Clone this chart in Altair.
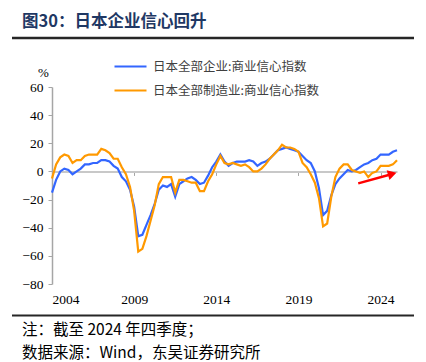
import altair as alt
import pandas as pd

# ---------------- data ----------------
start_year = 2004
blue_vals = [-15, -6, 0, 2, 1, -2, 0, 2, 5, 5, 6, 6, 8, 8, 7, 4, 2, -4, -7, -13,
             -25, -46, -45, -38, -31, -23, -13, -10, -11, -9, -18, -9, -7, -5, -4, -6,
             -9, -8, -3, 3, 7, 12, 7, 4, 6, 7, 7, 7, 8, 7, 4, 6, 7, 9, 12, 15, 16,
             17, 16, 15, 14, 11, 8, 6, 0, -12, -31, -28, -17, -9, -5, -2, 1, 0, 1, 3,
             5, 6, 8, 9, 12, 12, 12, 14, 15]
orange_vals = [-5, 5, 10, 12, 11, 6, 8, 8, 11, 12, 12, 12, 16, 15, 13, 9, 9, 3, -2, -11,
               -28, -57, -55, -46, -35, -24, -9, -4, -4, -4, -15, -6, -6, -7, -8, -8,
               -14, -14, -7, -2, 5, 11, 6, 5, 6, 5, 4, 5, 3, 0, 0, 2, 5, 9, 12, 15, 19,
               17, 17, 16, 14, 6, 3, -2, -8, -19, -39, -37, -18, -4, 2, 5, 5, 1, 0, -1,
               0, -4, -1, 0, 4, 4, 4, 5, 8]
series = ["日本全部企业:商业信心指数", "日本全部制造业:商业信心指数"]
colors = ["#3366FF", "#FF9900"]
x_ticks = [2004, 2009, 2014, 2019, 2024]
y_ticks = [60, 40, 20, 0, -20, -40, -60, -80]
title_text = "图30：日本企业信心回升"
note_lines = ["注：截至 2024 年四季度；", "数据来源：Wind，东吴证券研究所"]
arrow_x = [2022.64, 2024.71]
arrow_y = [-8.5, -1.8]

n = len(blue_vals)
t = [start_year + i / 4 for i in range(n)]
df = pd.DataFrame({
    "t": t + t,
    "v": blue_vals + orange_vals,
    "s": [series[0]] * n + [series[1]] * n,
})

serif = "Liberation Serif"
cjk = "Noto Sans CJK SC"
W, H = 345, 197
Y_MIN, Y_MAX = -80, 60

xs = alt.Scale(domain=[2004, 2025], nice=False, zero=False)
ys = alt.Scale(domain=[Y_MIN, Y_MAX], nice=False, zero=False)
zero_from_top = H * Y_MAX / (Y_MAX - Y_MIN)
zero_from_bottom = H - zero_from_top

x_axis = alt.Axis(values=x_ticks, format="d", offset=-zero_from_bottom,
                  domain=True, domainColor="#C8C8C8", domainWidth=2,
                  ticks=True, tickColor="#A6A6A6", tickSize=4,
                  grid=False, labelFont=serif, labelFontSize=13.5,
                  labelColor="#000000", labelPadding=zero_from_bottom + 4)
y_axis = alt.Axis(values=y_ticks, grid=False, domainColor="#A6A6A6",
                  domainWidth=1.5, tickColor="#A6A6A6", tickSize=4,
                  labelFont=serif, labelFontSize=13.5, labelColor="#000000",
                  labelPadding=5, titleAngle=0, titleFont=serif,
                  titleFontSize=13, titleFontWeight="normal",
                  titleColor="#000000", titleX=-9, titleY=-8,
                  titleAlign="center")

lines = alt.Chart(df).mark_line(strokeWidth=2.2).encode(
    x=alt.X("t:Q", scale=xs, title=None, axis=x_axis),
    y=alt.Y("v:Q", scale=ys, title="%", axis=y_axis),
    color=alt.Color("s:N", scale=alt.Scale(domain=series, range=colors),
                    legend=alt.Legend(orient="none", legendX=61, legendY=-38,
                                      title=None, symbolType="stroke",
                                      symbolSize=1024, symbolStrokeWidth=2.2,
                                      labelFont=cjk, labelFontSize=12.5,
                                      labelColor="#404040", labelOffset=5,
                                      labelLimit=400, rowPadding=-10, padding=0)),
)

arrow_df = pd.DataFrame({"t": arrow_x, "v": arrow_y})
arrow_line = alt.Chart(arrow_df).mark_line(color="#FF0000", strokeWidth=2.5).encode(
    x=alt.X("t:Q", scale=xs, title=None, axis=x_axis),
    y=alt.Y("v:Q", scale=ys, title="%", axis=y_axis))
arrow_head = alt.Chart(arrow_df.tail(1)).mark_point(
    shape="triangle-right", filled=True, color="#FF0000", size=100, angle=344,
    opacity=1).encode(x=alt.X("t:Q", scale=xs, title=None, axis=x_axis),
                      y=alt.Y("v:Q", scale=ys, title="%", axis=y_axis))


def text_layer(txt, x, y, size, color, weight="normal", font=cjk):
    return alt.Chart(pd.DataFrame({"txt": [txt]})).mark_text(
        align="left", baseline="middle", fontSize=size, font=font,
        color=color, fontWeight=weight).encode(
        x=alt.value(x), y=alt.value(y), text="txt:N")


title = text_layer(title_text, -30, -65, 16.5, "#1F3864", "bold")
note1 = text_layer(note_lines[0], -30, 243, 15.5, "#000000")
note2 = text_layer(note_lines[1], -30, 266, 15.5, "#000000")
top_rule = alt.Chart(pd.DataFrame({"a": [0]})).mark_rule(
    color="#262626", strokeWidth=2.5).encode(
    x=alt.value(-40), x2=alt.value(362), y=alt.value(-49))
bottom_rule = alt.Chart(pd.DataFrame({"a": [0]})).mark_rule(
    color="#262626", strokeWidth=2).encode(
    x=alt.value(-40), x2=alt.value(362), y=alt.value(228.5))

chart = alt.layer(
    lines, arrow_line, arrow_head, title, note1, note2, top_rule, bottom_rule
).properties(
    width=W, height=H,
    padding={"left": 44, "top": 79, "right": 21, "bottom": 78},
    autosize=alt.AutoSizeParams(type="none"),
).configure_view(stroke=None)

chart.save("out.html", embed_options={"renderer": "svg", "actions": False})
